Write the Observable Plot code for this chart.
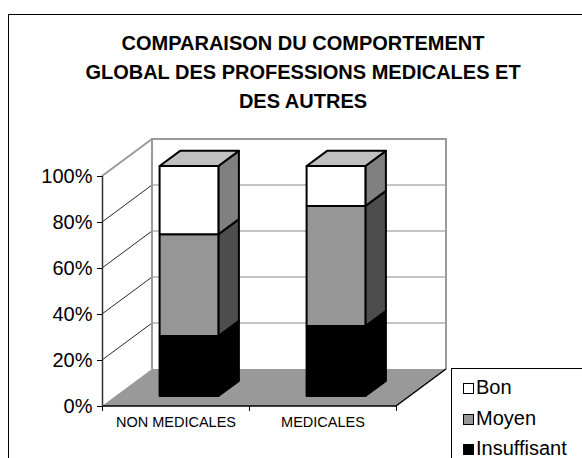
<!DOCTYPE html>
<html>
<head>
<meta charset="utf-8">
<script src="https://cdn.jsdelivr.net/npm/d3@7"></script>
<script src="https://cdn.jsdelivr.net/npm/@observablehq/plot@0.6"></script>
<style>
  html, body { margin: 0; padding: 0; background: #fff; overflow: hidden; }
  #wrap { position: relative; width: 582px; height: 458px; overflow: hidden; font-family: Arial, "Liberation Sans", sans-serif; }
  #frame { position: absolute; left: 8px; top: 14px; width: 640px; height: 520px; border: 1.5px solid #000; box-sizing: border-box; }
  #title { position: absolute; left: 0; width: 606px; top: 28.5px; text-align: center; font-weight: bold; font-size: 20px; line-height: 29px; color: #000; }
  #chart { position: absolute; left: 0; top: 0; }
  #legend { position: absolute; left: 451px; top: 368px; width: 200px; height: 200px; border: 1.2px solid #000; box-sizing: border-box; background: #fff; }
  .item { position: absolute; left: 11px; font-size: 20px; line-height: 20px; color: #000; white-space: nowrap; }
  .sw { display: inline-block; width: 11px; height: 11px; border: 1.6px solid #000; box-sizing: border-box; margin-right: 2px; vertical-align: 0px; }
</style>
</head>
<body>
<div id="wrap">
  <div id="frame"></div>
  <div id="chart"></div>
  <div id="title">COMPARAISON DU COMPORTEMENT<br>GLOBAL DES PROFESSIONS MEDICALES ET<br>DES AUTRES</div>
  <div id="legend"></div>
</div>
<script>
const categories = ["NON MEDICALES", "MEDICALES"];
const insuffisant = [26.1, 30.4];
const moyen = [44.2, 52.2];
const bon = [29.7, 17.4];
const seriesNames = ["Insuffisant", "Moyen", "Bon"];
const yTicks = [0, 20, 40, 60, 80, 100];

const seriesValues = [insuffisant, moyen, bon];
const frontColors = ["#000000", "#969696", "#ffffff"];
const sideColors = ["#000000", "#4d4d4d", "#808080"];
const topColor = "#c0c0c0";

// stacked segments built from the data arrays
const segments = [];
categories.forEach((c, i) => {
  let acc = 0;
  seriesValues.forEach((vals, s) => {
    segments.push({cat: i, s, y0: acc, y1: acc + vals[i], last: s === seriesValues.length - 1});
    acc += vals[i];
  });
});

const DX = 50, DY = -37;      // full depth projection
const F0 = 0.27, F1 = 0.68;   // bar depth span (fraction of depth)
const BAR0 = 0.3, BAR1 = 0.7; // bar span within the category band

function poly(g, pts, fill, stroke, sw) {
  g.append("polygon")
    .attr("points", pts.map(p => p.join(",")).join(" "))
    .attr("fill", fill)
    .attr("stroke", stroke || "none")
    .attr("stroke-width", sw || 0)
    .attr("stroke-linejoin", "round");
}
function line(g, a, b, stroke, sw) {
  g.append("line").attr("x1", a[0]).attr("y1", a[1]).attr("x2", b[0]).attr("y2", b[1])
    .attr("stroke", stroke).attr("stroke-width", sw);
}

function scene(index, scales) {
  const X = scales.x, Y = scales.y;
  const g = d3.create("svg:g");
  const x0 = X(0), x2 = X(categories.length), y0 = Y(0), y100 = Y(100);
  // floor
  poly(g, [[x0, y0], [x2, y0], [x2 + DX, y0 + DY], [x0 + DX, y0 + DY]], "#999999");
  // back wall grid
  yTicks.filter(v => v > 0 && v < 100).forEach(v => {
    line(g, [x0 + DX, Y(v) + DY], [x2 + DX, Y(v) + DY], "#8a8a8a", 1);
    line(g, [x0, Y(v)], [x0 + DX, Y(v) + DY], "#111", 0.9);
  });
  // wall edges
  line(g, [x0 + DX, y0 + DY], [x0 + DX, y100 + DY], "#9a9a9a", 2);
  line(g, [x2 + DX, y0 + DY], [x2 + DX, y100 + DY], "#9a9a9a", 2);
  line(g, [x0 + DX - 1, y100 + DY], [x2 + DX + 1, y100 + DY], "#9a9a9a", 2);
  line(g, [x0, y100], [x0 + DX, y100 + DY], "#9a9a9a", 2);
  // floor front edge and right edge
  line(g, [x0, y0], [x2, y0], "#000", 1.5);
  line(g, [x2, y0], [x2 + DX, y0 + DY], "#000", 1.5);
  // bars
  const fx = DX * F0, fy = DY * F0, bx = DX * F1, by = DY * F1;
  segments.forEach(d => {
    const L = X(d.cat + BAR0), R = X(d.cat + BAR1);
    const b = Y(d.y0), t = Y(d.y1);
    poly(g, [[R + fx, b + fy], [R + bx, b + by], [R + bx, t + by], [R + fx, t + fy]], sideColors[d.s], "#000", 2);
    poly(g, [[L + fx, b + fy], [R + fx, b + fy], [R + fx, t + fy], [L + fx, t + fy]], frontColors[d.s], "#000", 2);
    if (d.last) {
      poly(g, [[L + fx, t + fy], [R + fx, t + fy], [R + bx, t + by], [L + bx, t + by]], topColor, "#000", 2);
    }
  });
  return g.node();
}

const chart = Plot.plot({
  width: 582,
  height: 458,
  marginLeft: 102,
  marginRight: 186,
  marginTop: 176,
  marginBottom: 52,
  x: {domain: [0, categories.length]},
  y: {domain: [0, 100]},
  style: {fontFamily: "Arial, 'Liberation Sans', sans-serif", background: "transparent", overflow: "visible", color: "#000"},
  marks: [
    scene,
    Plot.ruleX([0], {stroke: "#333", strokeWidth: 1.5}),
    Plot.axisY({ticks: yTicks, tickFormat: d => d + "%", tickSize: 5, tickPadding: 5, fontSize: 20, stroke: "#000"}),
    Plot.axisX({ticks: d3.range(categories.length + 1), tickFormat: () => "", tickSize: 5, stroke: "#000"}),
    Plot.axisX({ticks: categories.map((c, i) => i + 0.5), tickFormat: v => categories[Math.floor(v)], tickSize: 0, tickPadding: 10, fontSize: 14.5})
  ]
});
document.getElementById("chart").appendChild(chart);

// legend (top to bottom: Bon, Moyen, Insuffisant)
const legend = document.getElementById("legend");
const legendOrder = [2, 1, 0];
legendOrder.forEach((s, k) => {
  const div = document.createElement("div");
  div.className = "item";
  div.style.top = (8 + k * 30.5) + "px";
  const sw = document.createElement("span");
  sw.className = "sw";
  sw.style.background = frontColors[s];
  div.appendChild(sw);
  div.appendChild(document.createTextNode(seriesNames[s]));
  legend.appendChild(div);
});
</script>
</body>
</html>
